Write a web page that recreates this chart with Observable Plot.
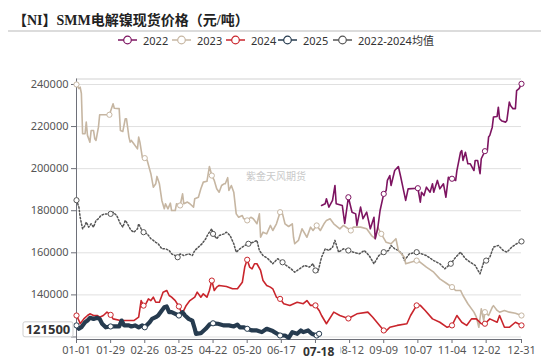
<!DOCTYPE html>
<html><head><meta charset="utf-8">
<script src="https://cdn.jsdelivr.net/npm/d3@7"></script>
<script src="https://cdn.jsdelivr.net/npm/@observablehq/plot@0.6"></script>
<style>
body{margin:0;background:#fff;}
#wrap{position:relative;width:550px;height:361px;overflow:hidden;font-family:"Noto Sans","Noto Sans CJK SC",sans-serif;}
#head{position:relative;width:550px;height:50px;}
#title{position:absolute;left:13px;top:9px;font-size:14px;font-weight:bold;color:#222;font-family:"Liberation Serif","Noto Sans CJK SC",serif;white-space:nowrap;}
#hr{position:absolute;left:8px;top:30px;width:533px;height:2px;background:#dcdcdc;}
.lg{position:absolute;top:34px;height:12px;display:flex;align-items:center;font-size:11px;color:#333;white-space:nowrap;}
.lg svg{margin-right:6px;}
#plot{position:absolute;left:0;top:50px;}
</style>
</head><body>
<div id="wrap">
  <div id="head"><div id="title"></div><div id="hr"></div><div id="legend"></div></div>
  <div id="plot"></div>
</div>
<script>
const titleText = "【NI】SMM电解镍现货价格（元/吨）";
const watermark = "紫金天风期货";
const seriesNames = ["2022","2023","2024","2025","2022-2024均值"];
const seriesColors = ["#7d1461","#c6b6a2","#c9252c","#263b4f","#555555"];
const legendLeft = [118,172,226,278,333];
const xTickLabels = ["01-01","01-29","02-26","03-25","04-22","05-20","06-17","07-15","08-12","09-09","10-07","11-04","12-02","12-31"];
const yTickValues = [120000,140000,160000,180000,200000,220000,240000];
const latestDate = "07-18";
const latestValue = 121500;

const dates2022 = ["07-20","07-23","07-24","07-26","07-29","07-31","08-01","08-06","08-08","08-11","08-14","08-17","08-18","08-21","08-23","08-26","08-29","09-01","09-02","09-04","09-06","09-09","09-11","09-12","09-14","09-15","09-18","09-21","09-23","09-25","09-27","09-29","10-07","10-09","10-10","10-12","10-14","10-17","10-19","10-20","10-23","10-25","10-28","10-30","11-01","11-04","11-07","11-08","11-11","11-12","11-13","11-15","11-17","11-19","11-22","11-23","11-25","11-27","11-28","12-01","12-03","12-04","12-05","12-07","12-08","12-11","12-12","12-13","12-15","12-18","12-19","12-21","12-22","12-24","12-26","12-27","12-29","12-31"];
const values2022 = [182500,183300,185700,181700,184900,192000,183300,182500,174000,186400,179300,178500,173000,181700,176200,179300,171400,176900,166700,171400,180100,188000,189600,194400,196700,192000,199100,201000,195900,190400,184900,190400,190700,184100,188800,187200,191200,188800,192800,188800,194400,190400,192800,186400,195900,195200,194400,199100,207800,208600,203900,207800,202300,202300,199100,203900,203900,197600,204700,208300,208600,215000,215800,219700,224500,224800,229200,223700,222600,222100,222900,231600,230000,228500,228500,237100,238000,240300];

const dates2023 = ["01-01","01-03","01-04","01-05","01-06","01-08","01-09","01-10","01-12","01-13","01-15","01-16","01-17","01-19","01-20","01-28","01-31","02-01","02-05","02-06","02-08","02-10","02-11","02-13","02-14","02-15","02-17","02-20","02-21","02-22","02-24","02-26","02-28","03-02","03-04","03-06","03-07","03-09","03-11","03-13","03-14","03-16","03-18","03-19","03-22","03-23","03-26","03-28","03-29","04-01","04-03","04-06","04-07","04-10","04-12","04-14","04-17","04-19","04-21","04-23","04-25","04-27","04-29","05-01","05-02","05-04","05-05","05-07","05-09","05-11","05-13","05-16","05-17","05-20","05-23","05-25","05-28","05-30","05-31","06-02","06-05","06-08","06-10","06-13","06-16","06-18","06-20","06-23","06-26","06-27","06-28","07-01","07-04","07-08","07-11","07-13","07-16","07-19","07-22","07-24","07-27","07-30","08-04","08-07","08-13","08-15","08-21","08-26","08-30","09-02","09-04","09-07","09-11","09-15","09-19","09-21","09-26","09-27","10-06","10-09","10-14","10-20","10-25","10-31","11-04","11-07","11-11","11-13","11-17","11-22","11-24","11-26","11-28","11-30","12-01","12-04","12-07","12-08","12-11","12-13","12-17","12-21","12-26","12-31"];
const values2023 = [240000,238000,238700,235700,216600,216600,222100,215800,212600,218100,218100,214200,213400,219700,225600,225600,230800,228700,228500,218100,217700,223700,223700,215000,212600,213400,211800,209400,215000,212600,205400,205000,203900,197600,191200,192800,196300,192800,184900,180900,183300,180900,183600,180100,180100,183300,182500,188000,183300,184100,183300,181700,185700,186400,190400,193600,194000,201000,196700,194400,190400,188800,192000,192800,192800,195700,189600,192000,188800,178500,176900,177700,176300,175400,176900,176200,173800,178500,167400,169800,169000,173000,170600,173800,179300,178500,173800,172500,173800,167400,164300,165900,171400,167400,172200,170600,173000,170600,173800,175400,176200,173800,171400,173000,170600,172200,172200,171400,168200,166700,172200,169000,165000,164300,166700,161100,157900,154800,156300,155500,153200,150800,147600,145300,143700,142100,142100,139700,135800,131800,129400,124600,133400,127800,131800,130200,134100,134900,132600,131800,132600,131800,131300,130200];

const dates2024 = ["01-01","01-03","01-04","01-07","01-10","01-12","01-15","01-18","01-20","01-23","01-26","01-29","01-31","02-06","02-11","02-17","02-21","02-23","02-25","02-27","02-29","03-02","03-04","03-06","03-09","03-12","03-15","03-17","03-19","03-22","03-25","03-27","03-29","03-31","04-03","04-07","04-09","04-12","04-14","04-17","04-19","04-21","04-23","04-25","04-27","05-03","05-08","05-12","05-16","05-18","05-20","05-22","05-24","05-26","05-28","05-31","06-02","06-05","06-08","06-10","06-13","06-16","06-19","06-24","06-30","07-05","07-08","07-11","07-15","07-18","07-20","07-24","07-30","08-04","08-11","08-18","08-27","08-31","09-09","09-10","09-14","09-20","09-28","10-01","10-06","10-09","10-13","10-19","10-25","10-31","11-04","11-08","11-12","11-16","11-20","11-24","11-28","12-01","12-05","12-11","12-13","12-17","12-21","12-26","12-31"];
const values2024 = [130200,127800,126300,128600,130200,131000,130200,130200,129400,130200,131800,130500,128600,127800,127800,127800,129400,137300,134900,135800,138100,137300,138900,136500,136500,141300,142100,139700,138900,137300,134500,131800,132600,135000,137300,138900,141300,138900,140500,138900,142100,146800,142100,143700,144500,144000,142900,142900,146000,153200,156700,153200,152400,154800,154800,151600,146800,144500,143700,142900,138900,138100,135800,135000,136500,135800,137300,135000,135000,132600,130200,126300,131800,130200,128800,131000,131800,129400,123100,122300,124600,125500,126300,130200,135000,135000,132600,128600,127000,124600,125500,130200,127000,125500,128600,128600,126300,126300,128600,127000,130200,124600,124600,127000,125500];

const dates2025 = ["01-01","01-03","01-05","01-08","01-10","01-12","01-15","01-18","01-20","01-22","01-25","01-29","02-02","02-05","02-07","02-09","02-13","02-15","02-18","02-21","02-24","02-26","03-01","03-03","03-06","03-08","03-11","03-13","03-15","03-17","03-19","03-22","03-25","03-28","03-30","04-02","04-05","04-07","04-08","04-12","04-16","04-19","04-22","04-26","05-01","05-05","05-09","05-12","05-14","05-17","05-20","05-24","05-28","06-01","06-05","06-10","06-16","06-20","06-23","06-26","06-30","07-03","07-05","07-09","07-12","07-16","07-18"];
const values2025 = [125500,123900,124600,127000,127800,129100,128600,129100,128600,126300,124600,125000,125000,125000,127800,125500,125500,125000,125500,124600,125500,124600,127000,128600,129400,130200,132600,134100,134500,131800,131800,131000,130200,131800,130200,128600,127800,123900,121500,121800,123900,125900,126500,126300,125500,125500,125000,125900,124600,124600,123900,123100,123100,122300,123900,122800,120700,120700,119600,122300,121500,123100,122300,123100,121500,120700,121500];

const datesAvg = ["01-01","01-03","01-04","01-06","01-08","01-09","01-11","01-13","01-15","01-17","01-19","01-21","01-24","01-26","01-29","01-31","02-03","02-06","02-08","02-10","02-11","02-14","02-15","02-17","02-20","02-21","02-23","02-25","02-28","03-02","03-04","03-06","03-08","03-11","03-14","03-17","03-19","03-22","03-24","03-26","03-29","04-02","04-05","04-07","04-10","04-13","04-16","04-18","04-21","04-22","04-25","04-27","05-01","05-03","05-06","05-09","05-11","05-14","05-18","05-21","05-25","05-28","05-30","06-02","06-06","06-10","06-14","06-18","06-21","06-25","06-28","07-02","07-06","07-10","07-13","07-15","07-17","07-20","07-23","07-26","07-29","07-31","08-03","08-07","08-11","08-15","08-20","08-24","08-28","09-01","09-05","09-09","09-13","09-15","09-18","09-21","09-24","09-26","09-30","10-06","10-10","10-14","10-20","10-25","10-29","11-03","11-07","11-11","11-15","11-19","11-23","11-27","11-30","12-02","12-05","12-08","12-12","12-16","12-19","12-23","12-27","12-31"];
const valuesAvg = [185000,181700,176900,171400,173000,174600,172200,173800,172200,175400,176200,177700,178500,178500,178500,179300,177700,173800,172200,175400,174600,171400,170600,169800,171400,173800,171400,169800,169000,166700,165900,165000,164300,161900,161900,161100,159500,158700,157900,159500,158700,159500,158700,161100,162700,164300,166700,169000,171400,169000,166700,168200,169000,169800,168200,164300,160300,161900,163500,164300,165000,165900,161100,158700,157200,154800,157200,155500,154000,152400,150800,152400,154000,153200,154800,151600,150800,157900,161900,161100,162700,165900,160300,161900,161100,160300,159500,161100,158700,154800,158700,160300,161100,163500,161900,161100,159500,156300,159500,160300,159500,158700,156300,154800,152400,154800,157900,160300,157200,155500,154000,150000,155500,156300,157900,162700,163500,161100,160300,162700,164300,165400];

const toDate = md => new Date(Date.UTC(2024, +md.slice(0,2) - 1, +md.slice(3)));
const seriesDates = [dates2022, dates2023, dates2024, dates2025, datesAvg];
const seriesValues = [values2022, values2023, values2024, values2025, valuesAvg];
const seriesData = seriesNames.map((name, s) =>
  seriesDates[s].map((d, i) => ({series: name, date: toDate(d), value: seriesValues[s][i]}))
    .sort((a, b) => a.date - b.date));

// hollow markers at the axis label dates (nearest data point) and at series end
const tickDates = xTickLabels.map(toDate);
const markerData = seriesData.map(rows => {
  const out = [];
  for (const t of tickDates) {
    const p = d3.least(rows, r => Math.abs(r.date - t));
    if (p && Math.abs(p.date - t) <= 3 * 864e5 && !out.includes(p)) out.push(p);
  }
  const last = rows[rows.length - 1];
  if (!out.includes(last)) out.push(last);
  return out;
});

// title + legend
document.getElementById("title").textContent = titleText;
const legend = d3.select("#legend");
seriesNames.forEach((name, s) => {
  const item = legend.append("div").attr("class", "lg").style("left", legendLeft[s] + "px");
  const sv = item.append("svg").attr("width", 19).attr("height", 10);
  sv.append("line").attr("x1", 0).attr("x2", 19).attr("y1", 5).attr("y2", 5)
    .attr("stroke", seriesColors[s]).attr("stroke-width", 1.5);
  sv.append("circle").attr("cx", 9.5).attr("cy", 5).attr("r", 3.8)
    .attr("fill", "#fff").attr("stroke", seriesColors[s]).attr("stroke-width", 1.2);
  item.append("span").text(name);
});

const yMin = 118800, yMax = 242600;
const lineStyles = [
  {strokeWidth: 1.6},
  {strokeWidth: 1.6},
  {strokeWidth: 1.6},
  {strokeWidth: 4.2},
  {strokeWidth: 1.5, strokeDasharray: "1.5,2"}
];
const drawOrder = [4, 1, 2, 0, 3];
// labels hidden underneath the pointer labels in the reference
const hiddenX = new Set([latestDate === "07-18" ? "07-15" : ""]);
const hiddenY = new Set([120000]);

const chart = Plot.plot({
  width: 550, height: 311,
  marginTop: 28.5, marginBottom: 22, marginLeft: 76, marginRight: 29,
  x: {type: "utc", domain: [toDate("01-01"), toDate("12-31")], label: null},
  y: {domain: [yMin, yMax], label: null},
  style: {fontFamily: "'Noto Sans', sans-serif", fontSize: "11px", color: "#555", background: "white"},
  marks: [
    Plot.ruleY([yMax], {stroke: "#e8e8e8", strokeWidth: 2}),
    Plot.gridY({ticks: yTickValues, stroke: "#e0e0e0", strokeOpacity: 1}),
    Plot.text([watermark], {frameAnchor: "middle", dx: -23, dy: -32, fill: "#c9c9c9", fontSize: 10, fontFamily: "'Noto Sans CJK SC'"}),
    Plot.axisY({ticks: yTickValues, tickSize: 5, tickPadding: 3, tickFormat: d => hiddenY.has(d) ? "" : d3.format("d")(d), stroke: "#6e7079"}),
    Plot.axisX({ticks: tickDates, tickSize: 4, tickPadding: 3, tickFormat: d => { const s = d3.utcFormat("%m-%d")(d); return hiddenX.has(s) ? "" : s; }, stroke: "#6e7079"}),
    Plot.ruleX([toDate("01-01")], {stroke: "#6e7079"}),
    Plot.ruleY([yMin], {stroke: "#6e7079"}),
    ...drawOrder.map(s => Plot.line(seriesData[s], {x: "date", y: "value", stroke: seriesColors[s], strokeLinejoin: "round", ...lineStyles[s]})),
    ...drawOrder.map(s => Plot.dot(markerData[s], {x: "date", y: "value", r: 2.6, fill: "white", stroke: seriesColors[s], strokeWidth: 1}))
  ]
});
document.getElementById("plot").appendChild(chart);

// pointer labels (latest value and date), placed through the plot's scales
const xs = chart.scale("x"), ys = chart.scale("y");
const svg = d3.select(chart);
const g = svg.append("g");
const py = ys.apply(latestValue);
const boxW = 50, boxH = 15, boxRight = 73;
g.append("rect").attr("x", boxRight - boxW).attr("y", py - boxH / 2 - 4).attr("width", boxW).attr("height", boxH)
  .attr("fill", "#fff").attr("stroke", "#cfcfcf").attr("rx", 2);
g.append("text").attr("x", boxRight - boxW / 2).attr("y", py - 4).attr("dy", "0.36em").attr("text-anchor", "middle")
  .attr("font-size", 13).attr("font-weight", "bold").attr("fill", "#333").attr("font-family", "'Noto Sans', sans-serif").text(latestValue);
const px = xs.apply(toDate(latestDate));
const baseY = 311 - 22;
g.append("rect").attr("x", px - 22).attr("y", baseY + 5).attr("width", 44).attr("height", 17).attr("fill", "#fff");
g.append("text").attr("x", px).attr("y", baseY + 13).attr("dy", "0.36em").attr("text-anchor", "middle")
  .attr("font-size", 12).attr("font-weight", "bold").attr("fill", "#333").attr("font-family", "'Noto Sans', sans-serif").text(latestDate);
</script>
</body></html>
